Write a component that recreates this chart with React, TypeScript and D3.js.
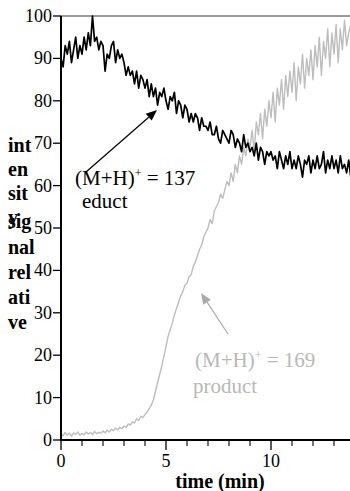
import React from "react";
import * as d3 from "d3";

// Sampling interval of both traces (minutes)
const STEP = 0.1;

// (M+H)+ = 137, educt signal, relative intensity, t = 0 .. 13.8 min
const eductValues = [
  90, 88, 93, 91, 94, 89, 92, 95, 90, 93,
  91, 95, 92, 96, 93, 100, 94, 95, 92, 94,
  93, 87, 91, 90, 93, 94, 89, 92, 90, 91,
  89, 86, 88, 86, 87, 84, 87, 83, 86, 85,
  83, 85, 81, 84, 81, 83, 79, 82, 81, 83,
  80, 78, 81, 80, 82, 77, 80, 79, 76, 79,
  78, 75, 77, 75, 77, 76, 73, 76, 74, 74,
  73, 75, 72, 72, 74, 71, 70, 73, 72, 71,
  70, 73, 72, 69, 71, 70, 68, 72, 69, 70,
  68, 69, 67, 70, 66, 69, 68, 65, 68, 67,
  68, 66, 67, 64, 68, 66, 64, 67, 65, 68,
  64, 66, 64, 67, 65, 62, 66, 65, 67, 63,
  66, 64, 67, 64, 65, 68, 63, 66, 64, 67,
  64, 66, 63, 67, 64, 65, 63, 66, 62,
];

// (M+H)+ = 169, product signal, relative intensity, t = 0 .. 13.8 min
const productValues = [
  1.5, 1.0, 1.8, 1.2, 1.6, 0.9, 1.7, 1.3, 1.9, 1.1,
  1.6, 1.2, 1.9, 1.4, 1.8, 1.3, 2.0, 1.5, 1.8, 1.6,
  2.1, 1.7, 2.3, 1.9, 2.5, 2.2, 2.8, 2.4, 3.0, 2.7,
  3.3, 3.0, 3.8, 3.5, 4.3, 4.0, 5.0, 4.6, 5.6, 5.3,
  6.0, 6.6, 7.4, 8.2, 9.5, 11.5, 13.5, 15.5, 17.5, 19.8,
  22, 24.5, 26, 27.5, 29.5, 31, 32.5, 34, 35, 36.5,
  37, 38.5, 39, 41, 42, 43.5, 45, 46, 48, 49,
  50, 52, 51, 54, 55, 56, 58, 57, 59, 61,
  60, 63, 61, 65, 63, 67, 65, 69, 67, 71,
  69, 73, 68, 75, 72, 77, 71, 78, 74, 80,
  76, 82, 75, 83, 79, 85, 78, 86, 81, 87,
  82, 89, 80, 88, 84, 91, 83, 90, 86, 92,
  85, 93, 88, 95, 86, 94, 90, 97, 88, 96,
  91, 98, 89, 97, 92, 99, 93, 96, 98,
];

const yTicks = [0, 10, 20, 30, 40, 50, 60, 70, 80, 90, 100];
const xMajorTicks = [0, 5, 10];
const xMinorTicks = [1, 2, 3, 4, 6, 7, 8, 9, 11, 12, 13];

// Pieces of the wrapped vertical axis title
const yTitlePieces = ["int", "en", "sit", "y", "sig", "nal", "rel", "ati", "ve"];
const yTitleBaselines = [152, 176, 200, 224, 228, 254, 279, 304, 329];

const W = 350;
const H = 491;
const FONT = "Liberation Serif, Times New Roman, serif";

const x = d3.scaleLinear().domain([0, 10]).range([61, 271]);
const y = d3.scaleLinear().domain([0, 100]).range([440, 16]);

const toPoints = (vals: number[]) =>
  vals.map((v, i) => [i * STEP, v] as [number, number]);

const line = d3
  .line<[number, number]>()
  .x((d) => x(d[0]))
  .y((d) => y(d[1]));

function Arrow({
  x1, y1, x2, y2, color, width,
}: { x1: number; y1: number; x2: number; y2: number; color: string; width: number }) {
  const ang = Math.atan2(y2 - y1, x2 - x1);
  const len = 11;
  const half = 4.5;
  const bx = x2 - len * Math.cos(ang);
  const by = y2 - len * Math.sin(ang);
  const px = -Math.sin(ang) * half;
  const py = Math.cos(ang) * half;
  return (
    <g>
      <line x1={x1} y1={y1} x2={bx} y2={by} stroke={color} strokeWidth={width} />
      <polygon
        points={`${x2},${y2} ${bx + px},${by + py} ${bx - px},${by - py}`}
        fill={color}
      />
    </g>
  );
}

export default function App() {
  const xEnd = W;
  return (
    <svg
      width={W}
      height={H}
      style={{ position: "absolute", left: 0, top: 0, background: "#fff", fontFamily: FONT }}
    >
      {/* top frame line */}
      <line x1={x(0)} x2={xEnd} y1={y(100)} y2={y(100)} stroke="#7a7a7a" strokeWidth={1.6} />

      {/* traces */}
      <path
        d={line(toPoints(productValues)) || ""}
        fill="none"
        stroke="#bdbdbd"
        strokeWidth={1.4}
        strokeLinejoin="round"
      />
      <path
        d={line(toPoints(eductValues)) || ""}
        fill="none"
        stroke="#000"
        strokeWidth={1.7}
        strokeLinejoin="round"
      />

      {/* y axis */}
      <line x1={x(0)} x2={x(0)} y1={y(100)} y2={y(0)} stroke="#000" strokeWidth={2} />
      {yTicks.map((t) => (
        <g key={t}>
          <line x1={x(0) - 8} x2={x(0)} y1={y(t)} y2={y(t)} stroke="#000" strokeWidth={1.3} />
          <text
            x={x(0) - 9}
            y={y(t) + 6}
            textAnchor="end"
            fontSize={18}
            fill="#000"
          >
            {t}
          </text>
        </g>
      ))}

      {/* x axis */}
      <line x1={x(0) - 1} x2={xEnd} y1={y(0)} y2={y(0)} stroke="#000" strokeWidth={2.2} />
      {xMajorTicks.map((t) => (
        <g key={t}>
          <line x1={x(t)} x2={x(t)} y1={y(0)} y2={y(0) + 10} stroke="#000" strokeWidth={1.3} />
          <text x={x(t)} y={467} textAnchor="middle" fontSize={18} fill="#000">
            {t}
          </text>
        </g>
      ))}
      {xMinorTicks.map((t) => (
        <line key={t} x1={x(t)} x2={x(t)} y1={y(0)} y2={y(0) + 6} stroke="#000" strokeWidth={1.1} />
      ))}
      <text x={220} y={488} textAnchor="middle" fontSize={20} fontWeight="bold" fill="#000">
        time (min)
      </text>

      {/* y axis title */}
      {yTitlePieces.map((s, i) => (
        <text key={i} x={8} y={yTitleBaselines[i]} fontSize={20} fontWeight="bold" fill="#000">
          {s}
        </text>
      ))}

      {/* educt annotation */}
      <Arrow x1={86} y1={172} x2={157} y2={110} color="#000" width={1.2} />
      <text x={75} y={185} fontSize={21} fill="#000">
        (M+H)<tspan dy={-8} fontSize={12}>+</tspan>
        <tspan dy={8}> = 137</tspan>
      </text>
      <text x={82} y={208} fontSize={21} fill="#000">
        educt
      </text>

      {/* product annotation */}
      <Arrow x1={228} y1={334} x2={201} y2={293} color="#aaaaaa" width={1.2} />
      <text x={195} y={367} fontSize={21} fill="#b8b8b8">
        (M+H)<tspan dy={-8} fontSize={12}>+</tspan>
        <tspan dy={8}> = 169</tspan>
      </text>
      <text x={193} y={393} fontSize={21} fill="#b8b8b8">
        product
      </text>
    </svg>
  );
}
